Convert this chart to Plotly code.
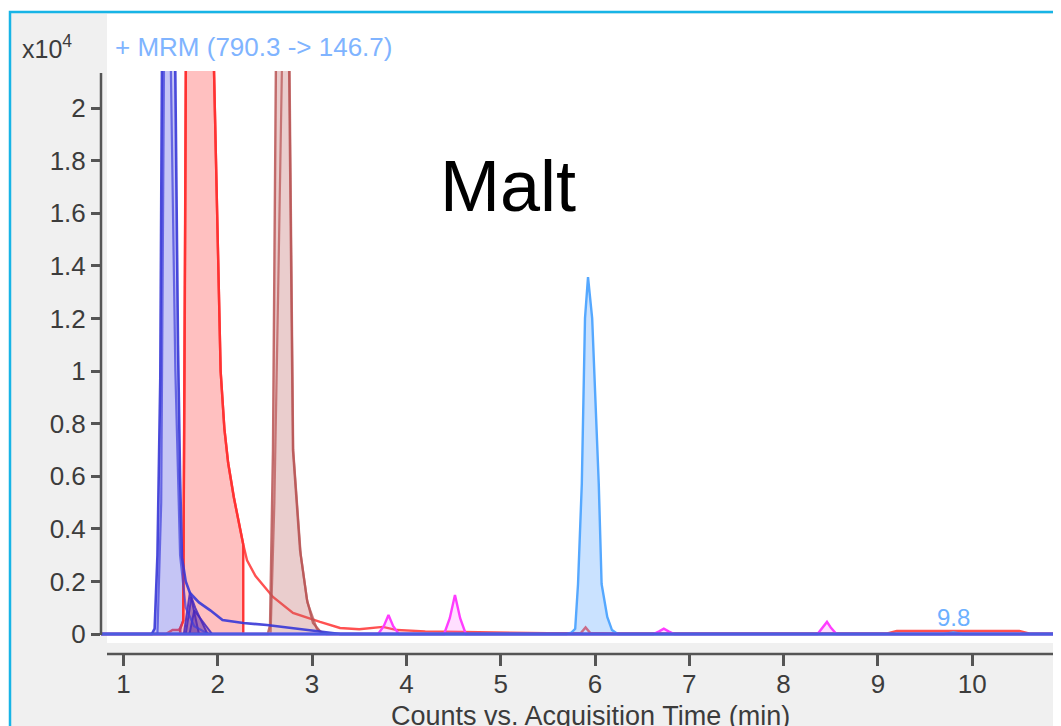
import plotly.graph_objects as go

# ---------------- data (counts in units of 10^4, time in min) ----------------
blue_t = [0.76, 1.30, 1.33, 1.36, 1.39, 1.41, 1.47, 1.54, 1.578, 1.60, 1.62, 1.66, 1.705, 1.80, 1.92, 2.05, 2.27, 2.52, 2.98, 3.30, 11.0]
blue_c = [0.0, 0.0, 0.02, 0.30, 0.97, 2.30, 5.00, 2.30, 1.10, 0.60, 0.29, 0.20, 0.156, 0.12, 0.09, 0.053, 0.042, 0.034, 0.015, 0.0, 0.0]

blueq_t = [1.36, 1.40, 1.43, 1.47, 1.50, 1.55, 1.60, 1.66, 1.75, 1.90]
blueq_c = [0.0, 0.50, 2.20, 3.00, 2.20, 1.00, 0.30, 0.10, 0.03, 0.0]

red_t = [0.76, 1.45, 1.52, 1.58, 1.60, 1.633, 1.65, 1.663, 1.75, 1.85, 1.95, 2.00, 2.03, 2.07, 2.11, 2.17, 2.235, 2.27,
         2.31, 2.40, 2.585, 2.797, 3.084, 3.296, 3.50, 3.62, 3.75, 3.90, 4.20, 4.60, 5.00, 5.50, 5.85, 5.90, 5.95, 6.20,
         9.10, 9.20, 10.50, 10.60, 11.0]
red_c = [0.0, 0.0, 0.015, 0.015, 0.02, 0.05, 1.20, 2.30, 3.50, 3.20, 2.30, 1.50, 1.00, 0.78, 0.65, 0.52, 0.40, 0.34,
         0.28, 0.22, 0.141, 0.08, 0.046, 0.023, 0.018, 0.022, 0.027, 0.015, 0.010, 0.008, 0.005, 0.003, 0.004, 0.025, 0.004, 0.002,
         0.002, 0.012, 0.012, 0.002, 0.0]
red_window = (1.60, 2.27)
pink_window = (9.20, 10.50)

brown_t = [0.76, 2.53, 2.554, 2.585, 2.617, 2.68, 2.755, 2.797, 2.872, 2.946, 3.01, 3.084, 3.15, 11.0]
brown_c = [0.0, 0.0, 0.034, 0.70, 2.20, 3.50, 2.20, 0.70, 0.32, 0.13, 0.042, 0.01, 0.0, 0.0]

brownq_t = [2.56, 2.60, 2.64, 2.68, 2.72, 2.76, 2.80, 2.88, 2.95, 3.05, 3.12]
brownq_c = [0.0, 0.50, 1.30, 2.20, 3.00, 2.20, 0.70, 0.30, 0.12, 0.02, 0.0]

purple1_t = [1.64, 1.705, 1.80]
purple1_c = [0.0, 0.16, 0.0]
purple2_t = [1.66, 1.72, 1.76, 1.89]
purple2_c = [0.0, 0.14, 0.10, 0.0]
purple3_t = [1.70, 1.75, 1.94]
purple3_c = [0.0, 0.09, 0.0]

lblue_t = [0.76, 5.70, 5.75, 5.79, 5.82, 5.86, 5.894, 5.926, 5.97, 6.04, 6.07, 6.13, 6.18, 6.24, 9.70, 9.80, 9.90, 11.0]
lblue_c = [0.0, 0.0, 0.005, 0.02, 0.19, 0.57, 1.20, 1.357, 1.20, 0.57, 0.19, 0.065, 0.015, 0.0, 0.0, 0.006, 0.0, 0.0]
lblue_window = (5.70, 6.24)

mag_t = [0.76, 3.70, 3.76, 3.81, 3.86, 3.92, 4.40, 4.46, 4.515, 4.57, 4.63, 6.62, 6.68, 6.73, 6.78, 6.84,
         8.36, 8.42, 8.46, 8.50, 8.56, 11.0]
mag_c = [0.0, 0.0, 0.03, 0.072, 0.03, 0.0, 0.0, 0.06, 0.148, 0.06, 0.0, 0.0, 0.01, 0.02, 0.01, 0.0,
         0.0, 0.025, 0.046, 0.025, 0.0, 0.0]

x_ticks = [1, 2, 3, 4, 5, 6, 7, 8, 9, 10]
y_ticks = [0, 0.2, 0.4, 0.6, 0.8, 1, 1.2, 1.4, 1.6, 1.8, 2]
y_ticktext = ["0", "0.2", "0.4", "0.6", "0.8", "1", "1.2", "1.4", "1.6", "1.8", "2"]

rt_label = "9.8"
rt_label_x = 9.8
title_text = "+ MRM (790.3 -&gt; 146.7)"
sample_text = "Malt"
x_title = "Counts vs. Acquisition Time (min)"

# ---------------- layout geometry ----------------
# The page body adds an 8 px margin, so figure pixel = window pixel - 8.
OFF = 8
W, H = 1061, 726
L, R, T, B = 101 - OFF, 1061, 71 - OFF, 654 - OFF   # R extends past the window edge (cut, as in reference)
XL_PX, XR_PX = 101, 1061 + OFF                       # window pixels of plot left/right
x_per = 94.3
x_at_1 = 123.5
XR = [1 + (XL_PX - x_at_1) / x_per, 1 + (XR_PX - x_at_1) / x_per]
y_per = 263.0
y_at_0 = 634.0
YR = [(y_at_0 - 654) / y_per, (y_at_0 - 71) / y_per]


def px_x(px):
    """window pixel -> paper x"""
    return (px - OFF - L) / (R - L)


def px_y(py):
    """window pixel -> paper y"""
    return (B - (py - OFF)) / (B - T)


def window(ts, cs, lo, hi):
    xs = [t for t in ts if lo <= t <= hi]
    ys = [c for t, c in zip(ts, cs) if lo <= t <= hi]
    return [xs[0]] + xs + [xs[-1]], [0.0] + ys + [0.0]


fig = go.Figure()


def add_fill(xs, ys, fillcolor, linecolor=None, lw=0):
    fig.add_trace(go.Scatter(x=xs, y=ys, mode="lines", fill="toself", fillcolor=fillcolor,
                             line=dict(color=linecolor or "rgba(0,0,0,0)", width=lw),
                             hoverinfo="skip", showlegend=False))


def add_line(xs, ys, color, lw=2.4):
    fig.add_trace(go.Scatter(x=xs, y=ys, mode="lines", line=dict(color=color, width=lw),
                             hoverinfo="skip", showlegend=False))


# red (integrated area + full trace)
rx, ry = window(red_t, red_c, *red_window)
add_fill(rx, ry, "rgba(255,90,90,0.38)", "#ff3434", 2.4)
px_, py_ = window(red_t, red_c, *pink_window)
add_fill(px_, py_, "rgba(255,150,150,0.35)")
add_line(red_t, red_c, "rgba(255,50,50,0.85)", 2.4)

# brown
bx, by = window(brown_t, brown_c, 2.53, 3.15)
add_fill(bx, by, "rgba(190,100,100,0.32)")
add_line(brownq_t, brownq_c, "rgba(185,85,85,0.75)", 2.2)
add_line(brown_t, brown_c, "rgba(185,85,85,0.85)", 2.4)

# light blue
lx, ly = window(lblue_t, lblue_c, *lblue_window)
add_fill(lx, ly, "rgba(90,165,255,0.32)")
add_line(lblue_t, lblue_c, "#55a8ff", 2.4)

# magenta
add_fill(mag_t, mag_c, "rgba(255,80,255,0.18)")
add_line(mag_t, mag_c, "#ff3cff", 2.4)

# purple small peaks
for pt, pc in [(purple1_t, purple1_c), (purple2_t, purple2_c), (purple3_t, purple3_c)]:
    add_fill(pt, pc, "rgba(90,40,170,0.30)", "rgba(70,40,190,0.85)", 2.0)

# dark blue
bbx, bby = window(blue_t, blue_c, 1.30, 1.64)
add_fill(bbx, bby, "rgba(80,80,225,0.33)")
add_line(blueq_t, blueq_c, "rgba(60,60,220,0.7)", 2.2)
add_line(blue_t, blue_c, "rgba(55,55,215,0.9)", 2.6)
# baseline emphasis (the blue trace along zero)
add_line([blue_t[0], blue_t[-1]], [0.0, 0.0], "#4b5ce0", 3.2)

# ---------------- shapes (panel, plot background, axis lines) ----------------
shapes = [
    dict(type="rect", xref="paper", yref="paper", x0=px_x(10), x1=px_x(1090), y0=px_y(760), y1=px_y(12),
         fillcolor="#f0f0f0", line=dict(color="#17b4e6", width=2.5), layer="below"),
    dict(type="rect", xref="paper", yref="paper", x0=px_x(107), x1=px_x(1090), y0=px_y(643), y1=px_y(14),
         fillcolor="#ffffff", line=dict(width=0), layer="below"),
    dict(type="line", xref="paper", yref="paper", x0=0, x1=0, y0=px_y(635), y1=px_y(73),
         line=dict(color="#555555", width=2.5)),
    dict(type="line", xref="paper", yref="paper", x0=px_x(107), x1=1.0, y0=0, y1=0,
         line=dict(color="#555555", width=2.5)),
]

FONT = "Liberation Sans, Arial, sans-serif"
annotations = [
    dict(xref="paper", yref="paper", x=px_x(20), y=px_y(47), xanchor="left", yanchor="middle",
         text="x10<sup>4</sup>", showarrow=False, font=dict(family=FONT, size=25, color="#3c3c3c")),
    dict(xref="paper", yref="paper", x=px_x(113), y=px_y(47), xanchor="left", yanchor="middle",
         text=title_text, showarrow=False, font=dict(family=FONT, size=26, color="#80b4ff")),
    dict(xref="paper", yref="paper", x=px_x(508), y=px_y(186), xanchor="center", yanchor="middle",
         text=sample_text, showarrow=False, font=dict(family=FONT, size=72, color="#000000")),
    dict(xref="x", yref="paper", x=rt_label_x, y=px_y(617), xanchor="center", yanchor="middle",
         text=rt_label, showarrow=False, font=dict(family=FONT, size=24, color="#6cb0ff")),
    dict(xref="paper", yref="paper", x=px_x(590), y=px_y(699), xanchor="center", yanchor="top",
         text=x_title, showarrow=False, font=dict(family=FONT, size=27, color="#3c3c3c")),
]

fig.update_layout(
    width=W, height=H,
    margin=dict(l=L, r=W - R, t=T, b=H - B, pad=0),
    paper_bgcolor="#ffffff",
    plot_bgcolor="rgba(0,0,0,0)",
    showlegend=False,
    shapes=shapes,
    annotations=annotations,
    xaxis=dict(range=XR, tickvals=x_ticks, ticks="outside", ticklen=11, tickwidth=2.5, tickcolor="#555555",
               showline=False, showgrid=False, zeroline=False, ticklabelstandoff=-4,
               tickfont=dict(family=FONT, size=26, color="#3c3c3c")),
    yaxis=dict(range=YR, tickvals=y_ticks, ticktext=y_ticktext, ticks="outside", ticklen=9, tickwidth=2.5,
               tickcolor="#555555", showline=False, showgrid=False, zeroline=False,
               tickfont=dict(family=FONT, size=26, color="#3c3c3c")),
)

fig.write_html("out.html")
